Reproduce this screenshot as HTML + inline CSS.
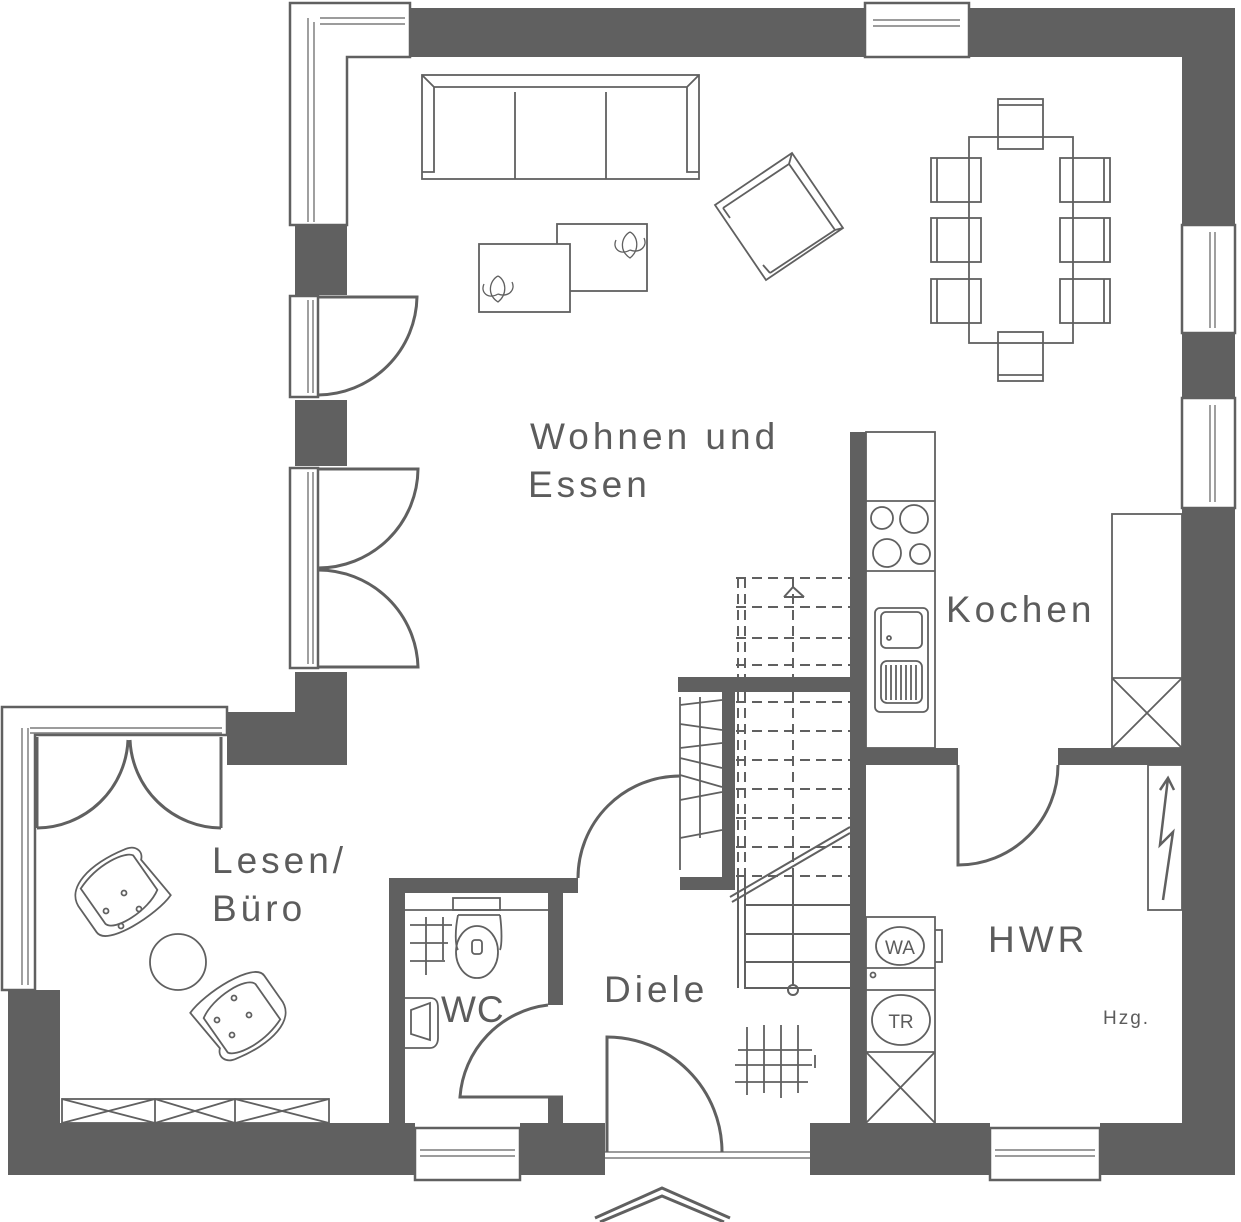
<!DOCTYPE html>
<html><head><meta charset="utf-8"><style>html,body{margin:0;padding:0;background:#fff}svg{display:block}</style></head>
<body>
<svg width="1241" height="1222" viewBox="0 0 1241 1222" xmlns="http://www.w3.org/2000/svg" font-family="'Liberation Sans', sans-serif">
<g fill="#606060" stroke="none">
<rect x="410" y="8" width="825" height="49"/>
<rect x="1182" y="8" width="53" height="1167"/>
<rect x="295" y="225" width="52" height="70"/>
<rect x="295" y="400" width="52" height="66"/>
<rect x="295" y="672" width="52" height="93"/>
<rect x="227" y="712" width="120" height="53"/>
<rect x="8" y="990" width="52" height="185"/>
<rect x="8" y="1123" width="407" height="52"/>
<rect x="520" y="1123" width="85" height="52"/>
<rect x="810" y="1123" width="180" height="52"/>
<rect x="1100" y="1123" width="135" height="52"/>
<rect x="850" y="432" width="16" height="691"/>
<rect x="866" y="748" width="92" height="17"/>
<rect x="1058" y="748" width="125" height="17"/>
<rect x="389" y="878" width="16" height="245"/>
<rect x="389" y="878" width="189" height="15"/>
<rect x="548" y="878" width="15" height="127"/>
<rect x="548" y="1096" width="15" height="27"/>
<rect x="678" y="677" width="172" height="15"/>
<rect x="722" y="677" width="13" height="213"/>
<rect x="680" y="877" width="55" height="13"/>
</g>
<g fill="#fff" stroke="#606060" stroke-width="2.5">
<path d="M290,3 L410,3 L410,57 L347,57 L347,225 L290,225 Z"/>
<rect x="865" y="3" width="104" height="54"/>
<rect x="1182" y="225" width="53" height="108"/>
<rect x="1182" y="398" width="53" height="110"/>
<rect x="290" y="296" width="28" height="101"/>
<rect x="290" y="468" width="28" height="200"/>
<path d="M2,707 L227,707 L227,735 L35,735 L35,990 L2,990 Z"/>
<rect x="415" y="1128" width="105" height="52"/>
<rect x="990" y="1128" width="110" height="52"/>
</g>
<g fill="none" stroke="#606060" stroke-width="1.2">
<path d="M308,18 V222 M314,22 V222 M320,18 H405 M320,24 H405"/>
<path d="M873,20 H960 M873,26 H960"/>
<path d="M1210,232 V328 M1215,232 V328 M1210,405 V502 M1215,405 V502"/>
<path d="M308,300 V393 M313,300 V393 M308,472 V664 M313,472 V664"/>
<path d="M22,728 V985 M28,728 V985 M30,728 H222 M30,733 H222"/>
<path d="M420,1150 H515 M420,1156 H515 M995,1150 H1095 M995,1156 H1095"/>
<path d="M605,1152 H810 M605,1158 H810"/>
</g>
<g fill="none" stroke="#606060" stroke-width="3">
<path d="M318,297 H417 A100,100 0 0 1 318,395"/>
<path d="M318,469 H418 A100,100 0 0 1 318,568"/>
<path d="M318,667 H418 A100,100 0 0 0 318,570"/>
<path d="M37,828 V737 M37,828 A92,92 0 0 0 128,740 M221,828 V737 M221,828 A92,92 0 0 1 130,740"/>
<path d="M578,878 A102,102 0 0 1 680,776"/>
<path d="M958,765 V865 A100,100 0 0 0 1058,765"/>
<path d="M563,1097 H460 A100,100 0 0 1 548,1005"/>
<path d="M607,1152 V1037 A115,115 0 0 1 722,1152"/>
<path d="M595,1218 L662,1188 L730,1218 M600,1222 L662,1196 L724,1222" stroke-width="3"/>
</g>
<g fill="none" stroke="#606060" stroke-width="1.8">
<rect x="422" y="75" width="277" height="104"/>
<path d="M434,87 H687 V172 H699 M434,87 V172 H422 M434,87 L422,75 M687,87 L699,75 M515,92 V179 M606,92 V179"/>
<rect x="557" y="224" width="90" height="67"/>
<rect x="479" y="244" width="91" height="68" fill="#fff"/>
<path d="M630,232 C622,236 618,250 630,258 C640,250 638,236 630,232 M616,240 C612,248 620,256 630,250 M644,238 C648,246 640,254 630,250 M498,276 C490,280 486,294 498,302 C508,294 506,280 498,276 M484,284 C480,292 488,300 498,294 M512,282 C516,290 508,298 498,294" stroke-width="1.3"/>
<path d="M715,205 L792,153 L843,228 L766,280 Z M723,208 L789,164 L835,230 L770,273 M792,153 L789,164 M843,228 L835,230 M723,208 L730,218 M770,273 L763,265"/>
<rect x="969" y="137" width="104" height="206"/>
<rect x="998" y="99" width="45" height="50"/><path d="M998,105 H1043"/>
<rect x="998" y="332" width="45" height="49"/><path d="M998,375 H1043"/>
<rect x="931" y="158" width="50" height="44"/><rect x="931" y="218" width="50" height="44"/><rect x="931" y="279" width="50" height="44"/>
<path d="M937,158 V202 M937,218 V262 M937,279 V323"/>
<rect x="1060" y="158" width="50" height="44"/><rect x="1060" y="218" width="50" height="44"/><rect x="1060" y="279" width="50" height="44"/>
<path d="M1104,158 V202 M1104,218 V262 M1104,279 V323"/>
<rect x="866" y="432" width="69" height="316"/>
<path d="M866,501 H935 M866,571 H935"/>
<circle cx="882" cy="518" r="11"/><circle cx="914" cy="519" r="14"/><circle cx="887" cy="553" r="14"/><circle cx="920" cy="554" r="10"/>
<rect x="875" y="608" width="53" height="104" rx="5"/>
<rect x="881" y="612" width="41" height="36" rx="5"/>
<rect x="881" y="661" width="41" height="42" rx="6"/>
<path d="M886,665 V700 M891,665 V700 M896,665 V700 M901,665 V700 M906,665 V700 M911,665 V700 M916,665 V700"/>
<circle cx="889" cy="638" r="2"/>
<rect x="1112" y="514" width="70" height="234"/>
<path d="M1112,678 H1182 M1112,678 L1182,748 M1182,678 L1112,748"/>
<rect x="1148" y="765" width="34" height="145"/>
<path d="M1163,900 L1173,832 L1160,845 L1168,778 M1160,790 L1168,778 L1174,790" stroke-width="2.5"/>
<rect x="866" y="917" width="69" height="210"/>
<path d="M866,968 H935 M866,990 H935 M866,1052 H935 M866,1052 L935,1123 M935,1052 L866,1123 M935,930 H942 V962 H935"/>
<ellipse cx="900" cy="946" rx="24" ry="19"/>
<ellipse cx="901" cy="1020" rx="29" ry="25"/>
<circle cx="873" cy="975" r="2.5"/>
<rect x="62" y="1099" width="267" height="24"/>
<path d="M62,1099 L155,1123 M155,1099 L62,1123 M155,1123 V1099 M235,1123 V1099 M155,1099 L235,1123 M235,1099 L155,1123 M235,1099 L329,1123 M329,1099 L235,1123"/>
<circle cx="178" cy="962" r="28"/>
<g transform="translate(118,893) rotate(-35)">
<path d="M-40,-8 C-42,-35 -5,-40 30,-32 C42,-30 45,-20 38,-14 L42,32 C20,40 -40,38 -40,20 Z"/>
<path d="M-28,-25 C0,-36 30,-30 34,-22 L34,20 C15,32 -25,30 -28,18 Z"/>
</g>
<circle cx="124" cy="893" r="2.5"/><circle cx="106" cy="911" r="2.5"/><circle cx="139" cy="909" r="2.5"/><circle cx="121" cy="926" r="2.5"/>
<g transform="translate(243,1015) rotate(-35)">
<path d="M-40,-8 C-42,-35 -5,-40 30,-32 C42,-30 45,-20 38,-14 L42,32 C20,40 -40,38 -40,20 Z" transform="rotate(180)"/>
<path d="M-28,-25 C0,-36 30,-30 34,-22 L34,20 C15,32 -25,30 -28,18 Z" transform="rotate(180)"/>
</g>
<circle cx="234" cy="998" r="2.5"/><circle cx="217" cy="1020" r="2.5"/><circle cx="249" cy="1015" r="2.5"/><circle cx="232" cy="1035" r="2.5"/>
<path d="M405,910 H548"/>
<rect x="453" y="898" width="47" height="12"/>
<path d="M458,915 C455,930 455,945 458,950 M500,915 C502,930 502,945 500,950 M458,915 H500"/>
<ellipse cx="477" cy="952" rx="21" ry="26"/>
<rect x="472" y="940" width="10" height="14" rx="3"/>
<path d="M405,998 H430 C437,998 438,1003 438,1008 V1038 C438,1044 435,1048 430,1048 H405"/>
<path d="M411,1010 L430,1003 V1040 L411,1034 Z"/>
<path d="M410,943 H448 M410,961 H445 M426,917 V975 M443,917 V960 M410,925 H452"/>
<path d="M738,1050 H812 M735,1065 H812 M735,1082 H808 M747,1027 V1095 M764,1025 V1093 M781,1025 V1098 M798,1025 V1093 M815,1055 V1068"/>
</g>
<g fill="none" stroke="#606060" stroke-width="2">
<path d="M736,578 H850 M736,607 H850 M736,638 H850 M736,665 H850" stroke-dasharray="10,6"/>
<path d="M738,578 V677 M745,578 V677 M793,578 V677" stroke-dasharray="10,6"/>
<path d="M784,597 L793,587 L804,597 M784,597 H804"/>
<path d="M738,692 V875 M745,692 V875 M793,692 V875" stroke-dasharray="10,6"/>
<path d="M736,702 H850 M736,731 H850 M736,760 H850 M736,789 H850 M736,818 H850 M736,847 H850 M736,876 H850" stroke-dasharray="10,6"/>
<path d="M738,875 V988 M745,875 V988 H850 M793,875 V985 M745,905 H850 M745,934 H850 M745,962 H850"/>
<circle cx="793" cy="990" r="5"/>
<path d="M730,897 L850,827 M732,902 L850,833"/>
<path d="M680,697 V870 M700,697 V838 M680,705 L722,700 M680,724 L722,730 M680,748 L722,743 M680,758 L722,768 M680,775 L722,787 M680,800 L722,792 M680,838 L722,830" stroke-width="1.8"/>
</g>
<g fill="#5c5c5c" font-size="37" letter-spacing="4">
<text x="530" y="449">Wohnen  und</text>
<text x="528" y="497">Essen</text>
<text x="946" y="622">Kochen</text>
<text x="988" y="952">HWR</text>
<text x="212" y="873">Lesen/</text>
<text x="212" y="921">Büro</text>
<text x="441" y="1022" letter-spacing="1">WC</text>
<text x="604" y="1002">Diele</text>
<text x="1103" y="1024" font-size="19" letter-spacing="2">Hzg.</text>
<text x="900" y="954" font-size="19" text-anchor="middle" letter-spacing="0">WA</text>
<text x="901" y="1028" font-size="19" text-anchor="middle" letter-spacing="0">TR</text>
</g>
</svg>
</body></html>
